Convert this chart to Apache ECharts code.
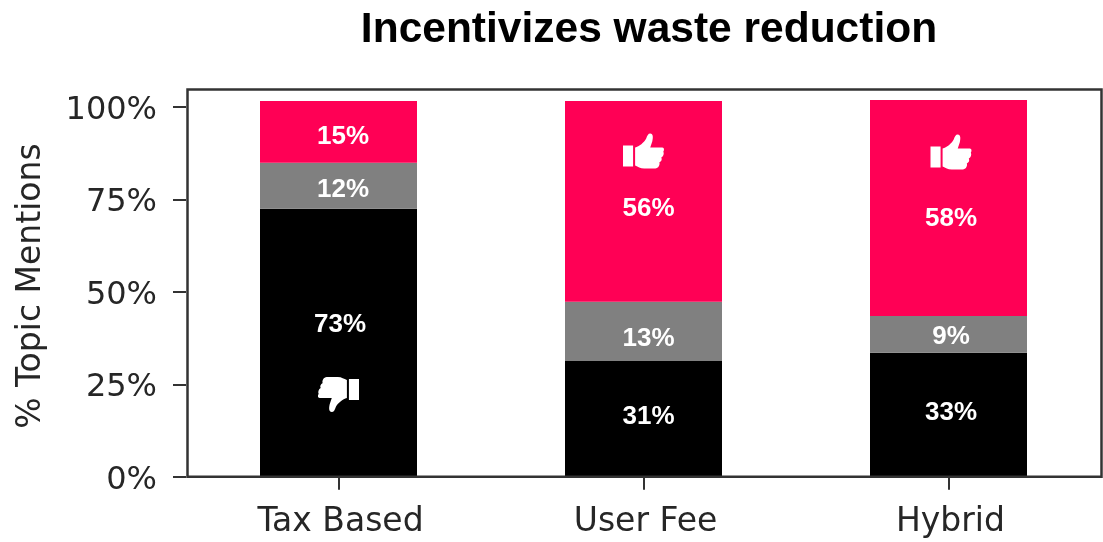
<!DOCTYPE html>
<html>
<head>
<meta charset="utf-8">
<style>html,body{margin:0;padding:0;background:#fff}#c{width:1103px;height:542px}</style>
<script src="https://cdn.jsdelivr.net/npm/echarts@6/dist/echarts.min.js"></script>
</head>
<body>
<div id="c"></div>
<script>
const categories = ['Tax Based', 'User Fee', 'Hybrid'];
const negative = [72.5, 31.3, 33.5];
const neutral = [12.4, 16, 10];
const positive = [16.7, 54.3, 58.4];
const negativeLabels = ['73%', '31%', '33%'];
const neutralLabels = ['12%', '13%', '9%'];
const positiveLabels = ['15%', '56%', '58%'];
const yTicks = [0, 25, 50, 75, 100];
const thumbsUp = [['User Fee', 88.1], ['Hybrid', 87.8]];
const thumbsDown = [['Tax Based', 22.2]];

const negOffsets = [[1.5, -18], [5, -2], [2.5, -2]];
const neuOffsets = [[4.5, 4], [5, 7.5], [2.5, 2]];
const posOffsets = [[4.5, 5], [5, 7.5], [2.5, 11]];
const thumbUpOffsets = [[0, 0], [2.5, 0]];

const thumbPath = 'path://M0 12H10V33H0ZM12 14C16 13 21 9 23 5C24 2 25 0 27 0C30 0 30 4 29 8L27 14H39C41 14 41 17 40 18C41 20 40 23 38 24C39 26 38 28 36 29C37 31 35 35 32 35H21C17 35 15 33 12 32Z';

function barSeries(name, values, labels, offsets, color) {
  return {
    name, type: 'bar', stack: 'total', barWidth: 157, itemStyle: { color },
    data: values.map((v, i) => ({
      value: v,
      label: {
        show: true, position: 'inside', offset: offsets[i], formatter: labels[i],
        color: '#fff', fontFamily: 'Liberation Sans', fontWeight: 'bold', fontSize: 26
      }
    }))
  };
}

const chart = echarts.init(document.getElementById('c'), null, { renderer: 'canvas' });
chart.setOption({
  animation: false,
  backgroundColor: '#fff',
  title: {
    text: 'Incentivizes waste reduction', left: 644, top: 4, textAlign: 'center',
    textStyle: { fontFamily: 'Liberation Sans', fontWeight: 'bold', fontSize: 42.5, color: '#000' }
  },
  grid: { left: 186, top: 89.5, width: 915, height: 387.2 },
  xAxis: {
    type: 'category', data: categories,
    axisLine: { show: false },
    axisTick: { show: true, alignWithLabel: true, length: 13, lineStyle: { color: '#333', width: 2 } },
    axisLabel: { margin: 29, color: '#262626', fontFamily: 'DejaVu Sans', fontSize: 33, padding: [0, 0, 0, 4] }
  },
  yAxis: {
    type: 'value', min: 0, max: 104.73,
    name: '% Topic Mentions', nameLocation: 'middle', nameGap: 132, nameRotate: 90,
    nameTextStyle: { color: '#262626', fontFamily: 'DejaVu Sans', fontSize: 33, padding: [0, 6, 6, 0] },
    splitLine: { show: false },
    axisLine: { show: false },
    axisTick: { show: true, length: 13, customValues: yTicks, lineStyle: { color: '#333', width: 2 } },
    axisLabel: {
      margin: 29, color: '#262626', fontFamily: 'DejaVu Sans', fontSize: 32,
      customValues: yTicks, formatter: v => v + '%', verticalAlign: 'top', lineHeight: 7
    }
  },
  series: [
    barSeries('Negative', negative, negativeLabels, negOffsets, '#000000'),
    barSeries('Neutral', neutral, neutralLabels, neuOffsets, '#808080'),
    barSeries('Positive', positive, positiveLabels, posOffsets, '#ff0055'),
    {
      type: 'scatter', symbol: thumbPath, symbolSize: [41, 35],
      data: thumbsUp.map((v, i) => ({ value: v, symbolOffset: thumbUpOffsets[i] })),
      itemStyle: { color: '#fff', opacity: 1 }, z: 5
    },
    {
      type: 'scatter', data: thumbsDown, symbol: thumbPath, symbolSize: [41, 35],
      symbolRotate: 180, itemStyle: { color: '#fff', opacity: 1 }, z: 5
    }
  ],
  graphic: [{
    type: 'rect', z: 100, silent: true,
    shape: { x: 187.5, y: 89.5, width: 914, height: 387.2 },
    style: { fill: 'none', stroke: '#333', lineWidth: 2.5 }
  }]
});
</script>
</body>
</html>
